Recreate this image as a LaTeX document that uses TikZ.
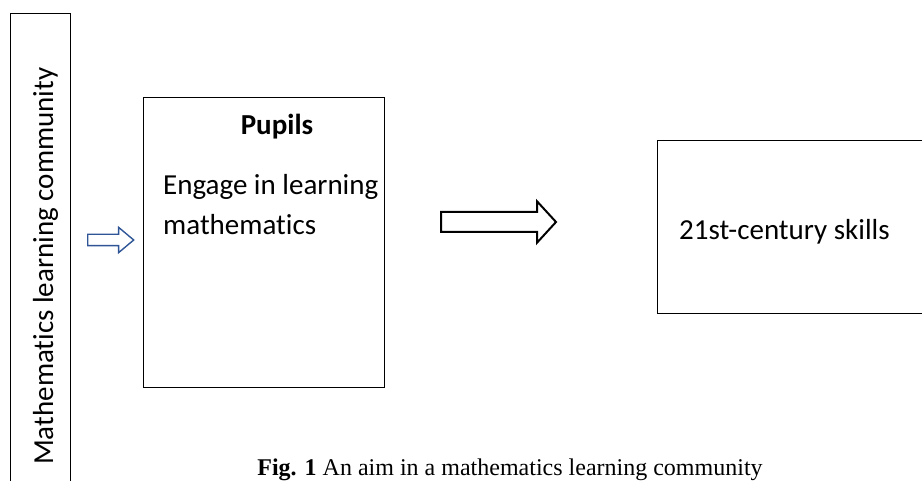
\documentclass[tikz,border=0pt]{standalone}
\usepackage{fontspec}
\setmainfont{Carlito}[Ligatures=NoCommon]
\newfontfamily\capfont{Liberation Serif}
\usetikzlibrary{shapes.arrows}
\definecolor{arrowblue}{HTML}{2F5597}
\tikzset{
  box/.style={draw=black, line width=1.3pt, inner sep=0pt, anchor=north west},
  txt/.style={font=\fontsize{29}{35}\selectfont, inner sep=0pt, text=black},
  blockarrow/.style={single arrow, draw, inner xsep=0pt, anchor=tail, fill=white}
}
\begin{document}
\begin{tikzpicture}[x=1pt,y=-1pt]
\useasboundingbox (0,0) rectangle (922,481);
\clip (0,0) rectangle (922,481);
% boxes
\node[box, minimum width=60pt, minimum height=500pt] (community) at (10,13) {};
\node[box, minimum width=241pt, minimum height=290pt] (pupils) at (143,97) {};
\node[box, minimum width=280pt, minimum height=173pt] (skills) at (657,140) {};
% texts
\node[txt, rotate=90, anchor=base west] (communitytext) at (53,465) {Mathematics learning community};
\node[txt, anchor=base] (pupilstitle) at (277,135) {\textbf{Pupils}};
\node[txt, anchor=base west] (engage) at (163,195) {Engage in learning};
\node[txt, anchor=base west] (maths) at (163,235) {mathematics};
\node[txt, anchor=base west] (skillstext) at (679,240) {21st-century skills};
% block arrows
\node[blockarrow, draw=arrowblue, line width=1.4pt, inner ysep=5pt, minimum height=46pt, minimum width=24pt,
      single arrow head extend=7pt, single arrow tip angle=80] (inarrow) at (87,240) {};
\node[blockarrow, draw=black, line width=2pt, inner ysep=9pt, minimum height=115pt, minimum width=39pt,
      single arrow head extend=10.5pt, single arrow tip angle=95] (outarrow) at (440,222) {};
% caption
\node[font=\capfont\fontsize{24}{28}\selectfont, inner sep=0pt, anchor=base] (caption) at (510,475)
  {\textbf{Fig. 1} An aim in a mathematics learning community};
\end{tikzpicture}
\end{document}
